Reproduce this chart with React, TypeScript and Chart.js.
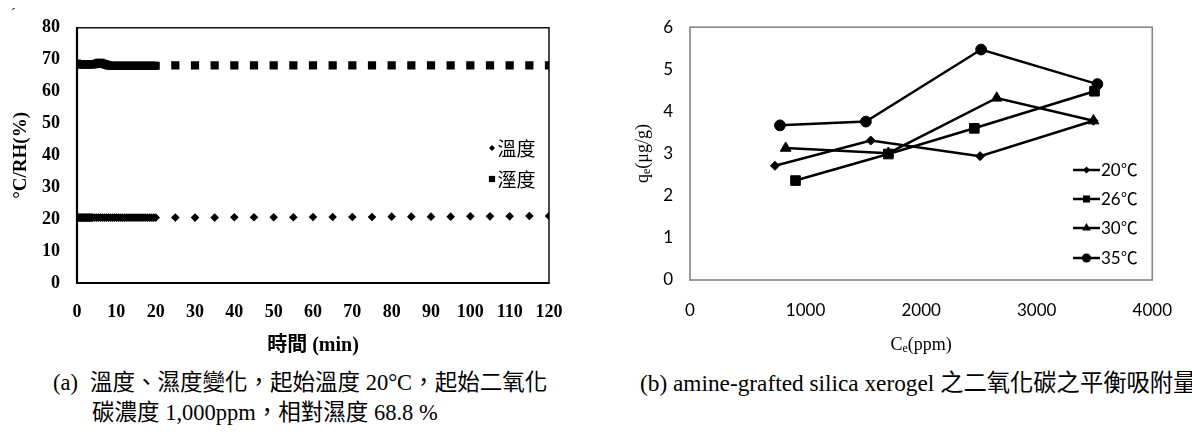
import React, { useEffect, useRef } from "react";
import { Chart, registerables } from "chart.js";

Chart.register(...registerables);

// ---------- (a) temperature / humidity vs time ----------
const timeMin = [
  0, 0.2, 0.4, 0.6, 0.8, 1, 1.2, 1.4, 1.6, 1.8, 2, 2.2, 2.4, 2.6, 2.8, 3, 3.2, 3.4, 3.6, 3.8, 4,
  4.5, 5, 5.5, 6, 6.5, 7, 7.5, 8, 8.5, 9, 9.5, 10, 10.5, 11, 11.5, 12, 12.5, 13, 13.5, 14, 14.5,
  15, 15.5, 16, 16.5, 17, 17.5, 18, 18.5, 19, 19.5, 20,
  25, 30, 35, 40, 45, 50, 55, 60, 65, 70, 75, 80, 85, 90, 95, 100, 105, 110, 115, 120,
];
const temperatureC = [
  20.5, 20.5, 20.5, 20.5, 20.5, 20.5, 20.5, 20.5, 20.5, 20.5, 20.5, 20.5, 20.5, 20.5, 20.5, 20.5, 20.5, 20.5, 20.5, 20.5, 20.5,
  20.5, 20.5, 20.5, 20.5, 20.5, 20.5, 20.5, 20.5, 20.5, 20.5, 20.5, 20.5, 20.5, 20.5, 20.5, 20.5, 20.5, 20.5, 20.5, 20.5, 20.5,
  20.5, 20.5, 20.5, 20.5, 20.5, 20.5, 20.5, 20.5, 20.5, 20.5, 20.5,
  20.5, 20.5, 20.5, 20.6, 20.6, 20.6, 20.6, 20.7, 20.7, 20.7, 20.7, 20.8, 20.8, 20.8, 20.8, 20.9, 20.9, 20.9, 21.0, 21.0,
];
const humidityRH = [
  68.8, 68.6, 68.6, 68.6, 68.6, 68.6, 68.6, 68.6, 68.6, 68.6, 68.6, 68.6, 68.6, 68.6, 68.6, 68.6, 68.6, 68.6, 68.6, 68.6, 68.6,
  68.6, 68.8, 69.0, 69.0, 68.8, 68.6, 68.4, 68.2, 68.1, 68.1, 68.1, 68.1, 68.1, 68.1, 68.1, 68.1, 68.1, 68.1, 68.1, 68.1, 68.1,
  68.1, 68.1, 68.1, 68.1, 68.1, 68.1, 68.1, 68.1, 68.1, 68.1, 68.1,
  68.2, 68.2, 68.2, 68.2, 68.2, 68.2, 68.2, 68.2, 68.2, 68.2, 68.2, 68.2, 68.2, 68.2, 68.2, 68.2, 68.2, 68.2, 68.2, 68.2,
];
const timeTicks = [0, 10, 20, 30, 40, 50, 60, 70, 80, 90, 100, 110, 120];
const tempRhTicks = [0, 10, 20, 30, 40, 50, 60, 70, 80];
const leftLegendLabels = ["溫度", "溼度"];

// ---------- (b) equilibrium adsorption ----------
const seriesLabels = ["20℃", "26℃", "30℃", "35℃"];
const ce20 = [735, 1564, 2510, 3491];
const qe20 = [2.71, 3.31, 2.94, 3.78];
const ce26 = [913, 1716, 2460, 3500];
const qe26 = [2.36, 2.99, 3.6, 4.48];
const ce30 = [828, 1716, 2654, 3491];
const qe30 = [3.13, 3.01, 4.32, 3.78];
const ce35 = [778, 1522, 2519, 3525];
const qe35 = [3.67, 3.76, 5.47, 4.65];
const ceTicks = [0, 1000, 2000, 3000, 4000];
const qeTicks = [0, 1, 2, 3, 4, 5, 6];

const SERIF = "'Liberation Serif', 'Noto Sans CJK TC', serif";
const CJK = "'Noto Sans CJK TC', 'Liberation Serif', serif";
const SANS = "Lato, 'Noto Sans CJK TC', 'Noto Sans', sans-serif";

function drawMarker(ctx: CanvasRenderingContext2D, style: string, x: number, y: number, r: number) {
  ctx.beginPath();
  if (style === "rectRot") {
    ctx.moveTo(x - r, y);
    ctx.lineTo(x, y - r);
    ctx.lineTo(x + r, y);
    ctx.lineTo(x, y + r);
    ctx.closePath();
  } else if (style === "rect") {
    const s = r * Math.SQRT1_2;
    ctx.rect(x - s, y - s, 2 * s, 2 * s);
  } else if (style === "triangle") {
    ctx.moveTo(x, y - r);
    ctx.lineTo(x + 0.866 * r, y + 0.5 * r);
    ctx.lineTo(x - 0.866 * r, y + 0.5 * r);
    ctx.closePath();
  } else {
    ctx.arc(x, y, r, 0, Math.PI * 2);
  }
  ctx.fill();
}

const leftFrame = {
  id: "leftFrame",
  beforeDatasetsDraw(chart: any) {
    const { ctx, chartArea: a } = chart;
    ctx.save();
    ctx.strokeStyle = "#111";
    ctx.lineWidth = 1.5;
    ctx.beginPath();
    ctx.moveTo(a.left, a.top);
    ctx.lineTo(a.right, a.top);
    ctx.lineTo(a.right, a.bottom);
    ctx.stroke();
    ctx.strokeStyle = "#000";
    ctx.lineWidth = 2.2;
    ctx.beginPath();
    ctx.moveTo(a.left, a.top - 0.7);
    ctx.lineTo(a.left, a.bottom);
    ctx.lineTo(a.right + 0.7, a.bottom);
    ctx.stroke();
    ctx.restore();
  },
  afterDraw(chart: any) {
    const { ctx } = chart;
    ctx.save();
    ctx.fillStyle = "#000";
    ctx.font = `19px ${CJK}`;
    ctx.textBaseline = "middle";
    const ys = [148, 179];
    const styles = ["rectRot", "rect"];
    const rs = [3, 4.4];
    leftLegendLabels.forEach((lab, i) => {
      drawMarker(ctx, styles[i], 492, ys[i], rs[i]);
      ctx.fillText(lab, 497.5, ys[i] + 1);
    });
    ctx.restore();
  },
};

function drawSubText(ctx: CanvasRenderingContext2D, main: string, sub: string, rest: string, cx: number, cy: number, rot: number) {
  ctx.save();
  ctx.translate(cx, cy);
  ctx.rotate(rot);
  ctx.fillStyle = "#000";
  ctx.textBaseline = "middle";
  ctx.textAlign = "left";
  const big = `18px ${SERIF}`;
  const small = `12px ${SERIF}`;
  ctx.font = big;
  const w1 = ctx.measureText(main).width;
  const w3 = ctx.measureText(rest).width;
  ctx.font = small;
  const w2 = ctx.measureText(sub).width;
  let x = -(w1 + w2 + w3) / 2;
  ctx.font = big;
  ctx.fillText(main, x, 0);
  x += w1;
  ctx.font = small;
  ctx.fillText(sub, x, 4);
  x += w2;
  ctx.font = big;
  ctx.fillText(rest, x, 0);
  ctx.restore();
}

const rightDecor = {
  id: "rightDecor",
  beforeDatasetsDraw(chart: any) {
    const { ctx, chartArea: a } = chart;
    ctx.save();
    ctx.strokeStyle = "#858585";
    ctx.lineWidth = 1.6;
    ctx.strokeRect(a.left, a.top, a.right - a.left, a.bottom - a.top);
    ctx.restore();
  },
  afterDraw(chart: any) {
    const { ctx, chartArea: a } = chart;
    drawSubText(ctx, "C", "e", "(ppm)", (a.left + a.right) / 2, 345, 0);
    drawSubText(ctx, "q", "e", "(μg/g)", 43, (a.top + a.bottom) / 2, -Math.PI / 2);
    const ys = [170, 199, 228, 258];
    const styles = ["rectRot", "rect", "triangle", "circle"];
    const rs = [3.6, 5, 5, 4.6];
    ctx.save();
    ctx.fillStyle = "#000";
    ctx.strokeStyle = "#000";
    ctx.lineWidth = 2.5;
    ctx.font = `17px ${SANS}`;
    ctx.textBaseline = "middle";
    seriesLabels.forEach((lab, i) => {
      ctx.beginPath();
      ctx.moveTo(473, ys[i]);
      ctx.lineTo(500, ys[i]);
      ctx.stroke();
      drawMarker(ctx, styles[i], 486.5, ys[i], rs[i]);
      ctx.fillText(lab, 501, ys[i] + 1);
    });
    ctx.restore();
  },
};

function pts(xs: number[], ys: number[]) {
  return xs.map((x, i) => ({ x, y: ys[i] }));
}

const plain = (v: any) => String(v);

export default function App() {
  const leftRef = useRef<HTMLCanvasElement>(null);
  const rightRef = useRef<HTMLCanvasElement>(null);

  useEffect(() => {
    Chart.defaults.color = "#000";
    const left = new Chart(leftRef.current as HTMLCanvasElement, {
      type: "scatter",
      data: {
        datasets: [
          {
            label: leftLegendLabels[0],
            data: pts(timeMin, temperatureC),
            showLine: false,
            pointStyle: "rectRot",
            pointRadius: 4.3,
            pointHoverRadius: 4.3,
            pointBackgroundColor: "#000",
            pointBorderWidth: 0,
          },
          {
            label: leftLegendLabels[1],
            data: pts(timeMin, humidityRH),
            showLine: false,
            pointStyle: "rect",
            pointRadius: 5.8,
            pointHoverRadius: 5.8,
            pointBackgroundColor: "#000",
            pointBorderWidth: 0,
          },
        ],
      },
      options: {
        responsive: false,
        animation: false,
        events: [],
        layout: { padding: { top: 22, right: 51, left: 0, bottom: 0 } },
        plugins: { legend: { display: false }, tooltip: { enabled: false } },
        scales: {
          x: {
            type: "linear",
            min: 0,
            max: 120,
            afterBuildTicks: (s: any) => {
              s.ticks = timeTicks.map((v) => ({ value: v }));
            },
            afterFit: (s: any) => {
              s.height = 77;
            },
            grid: { display: false, drawTicks: false },
            border: { display: false },
            ticks: { font: { family: SERIF, size: 18, weight: "bold" }, padding: 19, maxRotation: 0, autoSkip: false, callback: plain },
            title: {
              display: true,
              text: "時間 (min)",
              font: { family: SERIF, size: 20, weight: "bold" },
              padding: { top: 0, bottom: 2 },
            },
          },
          y: {
            type: "linear",
            min: 0,
            max: 80,
            afterBuildTicks: (s: any) => {
              s.ticks = tempRhTicks.map((v) => ({ value: v }));
            },
            afterFit: (s: any) => {
              s.width = 77;
            },
            grid: { display: false, drawTicks: false },
            border: { display: false },
            ticks: { font: { family: SERIF, size: 18, weight: "bold" }, padding: 17, autoSkip: false, callback: plain },
            title: {
              display: true,
              text: "°C/RH(%)",
              font: { family: SERIF, size: 19, weight: "bold" },
              padding: { top: 10, bottom: 0 },
            },
          },
        },
      },
      plugins: [leftFrame],
    } as any);

    const mk = (i: number, xs: number[], ys: number[], style: string, r: number) => ({
      label: seriesLabels[i],
      data: pts(xs, ys),
      borderColor: "#000",
      borderWidth: 2.5,
      tension: 0,
      pointStyle: style,
      pointRadius: r,
      pointHoverRadius: r,
      pointBackgroundColor: "#000",
      pointBorderColor: "#000",
      pointBorderWidth: 1,
    });

    const right = new Chart(rightRef.current as HTMLCanvasElement, {
      type: "line",
      data: {
        datasets: [
          mk(0, ce20, qe20, "rectRot", 4.5),
          mk(1, ce26, qe26, "rect", 6.8),
          mk(2, ce30, qe30, "triangle", 6.2),
          mk(3, ce35, qe35, "circle", 5.4),
        ],
      },
      options: {
        responsive: false,
        animation: false,
        events: [],
        layout: { padding: { top: 23, right: 29, left: 0, bottom: 0 } },
        plugins: { legend: { display: false }, tooltip: { enabled: false } },
        scales: {
          x: {
            type: "linear",
            min: 0,
            max: 4000,
            afterBuildTicks: (s: any) => {
              s.ticks = ceTicks.map((v) => ({ value: v }));
            },
            afterFit: (s: any) => {
              s.height = 80;
            },
            grid: { display: false, drawTicks: false },
            border: { display: false },
            ticks: { font: { family: SANS, size: 17 }, padding: 20, maxRotation: 0, autoSkip: false, callback: plain },
          },
          y: {
            type: "linear",
            min: 0,
            max: 6,
            afterBuildTicks: (s: any) => {
              s.ticks = qeTicks.map((v) => ({ value: v }));
            },
            afterFit: (s: any) => {
              s.width = 90;
            },
            grid: { display: false, drawTicks: false },
            border: { display: false },
            ticks: { font: { family: SANS, size: 17 }, padding: 17, autoSkip: false, callback: plain },
          },
        },
      },
      plugins: [rightDecor],
    } as any);

    return () => {
      left.destroy();
      right.destroy();
    };
  }, []);

  const cap: React.CSSProperties = {
    position: "absolute",
    fontFamily: SERIF,
    fontSize: 22.5,
    lineHeight: "30px",
    whiteSpace: "nowrap",
    color: "#000",
  };

  return (
    <div style={{ position: "absolute", left: 0, top: 0, width: 1192, height: 438, overflow: "hidden", background: "#fff" }}>
      <canvas ref={leftRef} width={600} height={360} style={{ position: "absolute", left: 0, top: 0 }} />
      <canvas ref={rightRef} width={592} height={360} style={{ position: "absolute", left: 600, top: 0 }} />
      <div style={{ ...cap, left: 11, top: 4, fontSize: 14, lineHeight: "20px" }}>´</div>
      <div style={{ ...cap, left: 53, top: 368 }}>(a)</div>
      <div style={{ ...cap, left: 90, top: 368 }}>溫度、濕度變化，起始溫度 20°C，起始二氧化</div>
      <div style={{ ...cap, left: 92, top: 398 }}>碳濃度 1,000ppm，相對濕度 68.8 %</div>
      <div style={{ ...cap, left: 640, top: 368, fontSize: 23.3 }}>(b) amine-grafted silica xerogel 之二氧化碳之平衡吸附量</div>
    </div>
  );
}
